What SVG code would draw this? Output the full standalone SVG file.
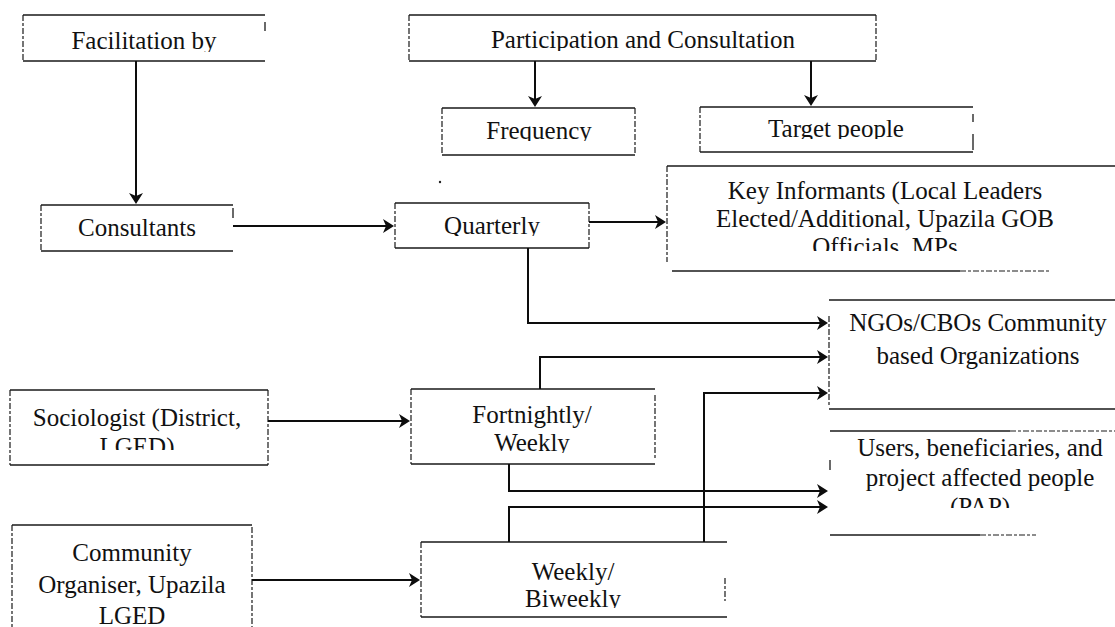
<svg xmlns="http://www.w3.org/2000/svg" width="1115" height="627" viewBox="0 0 1115 627">
  <style>
    .edge { fill: none; stroke: #1a1a1a; stroke-width: 1.3; }
    .side { fill: none; stroke: #1a1a1a; stroke-width: 1.2; stroke-dasharray: 6 2 3 2; }
    .link { fill: none; stroke: #0d0d0d; stroke-width: 2; }
    text { font-family: "Liberation Serif", "Times New Roman", serif; font-size: 25px; fill: #111; text-anchor: middle; }
  </style>
  <defs>
    <marker id="head" viewBox="0 0 11 14" refX="7" refY="7" markerWidth="11" markerHeight="14" markerUnits="userSpaceOnUse" orient="auto">
      <path d="M0,0 L11,7 L0,14 L3,7 Z" fill="#0d0d0d"/>
    </marker>
    <!-- text boxes clip their contents at the inner edge -->
    <clipPath id="c-fac"><rect x="23" y="15" width="242" height="37"/></clipPath>
    <clipPath id="c-part"><rect x="409" y="15" width="467" height="36"/></clipPath>
    <clipPath id="c-freq"><rect x="442" y="108" width="193" height="33"/></clipPath>
    <clipPath id="c-target"><rect x="700" y="107" width="273" height="32"/></clipPath>
    <clipPath id="c-quart"><rect x="395" y="203" width="194" height="33"/></clipPath>
    <clipPath id="c-key"><rect x="667" y="166" width="448" height="85"/></clipPath>
    <clipPath id="c-users"><rect x="830" y="431" width="285" height="77"/></clipPath>
    <clipPath id="c-soc"><rect x="10" y="390" width="258" height="60"/></clipPath>
    <clipPath id="c-fort"><rect x="411" y="389" width="244" height="64"/></clipPath>
    <clipPath id="c-week"><rect x="421" y="542" width="304" height="66"/></clipPath>
  </defs>

  <!-- top row -->
  <g id="facilitation">
    <path class="edge" d="M23,15 H265 M23,61 H265"/>
    <path class="side" d="M23,15 V61"/>
    <path class="edge" d="M265,22 V31"/>
    <text x="144" y="49" clip-path="url(#c-fac)">Facilitation by</text>
  </g>

  <g id="participation">
    <path class="edge" d="M409,15 H876 M409,61 H876"/>
    <path class="side" d="M409,15 V61 M876,15 V61"/>
    <text x="643" y="48" clip-path="url(#c-part)">Participation and Consultation</text>
  </g>

  <g id="frequency">
    <path class="edge" d="M442,108 H635 M442,155 H635"/>
    <path class="side" d="M442,108 V155 M635,108 V155"/>
    <text x="539" y="139" clip-path="url(#c-freq)">Frequency</text>
  </g>

  <g id="target-people">
    <path class="edge" d="M700,107 H973 M700,152 H973"/>
    <path class="side" d="M700,107 V152"/>
    <path class="edge" d="M973,114 V122 M973,134 V150"/>
    <text x="836" y="137" clip-path="url(#c-target)">Target people</text>
  </g>

  <!-- second row -->
  <g id="consultants">
    <path class="edge" d="M41,205 H233 M41,251 H233"/>
    <path class="side" d="M41,205 V251"/>
    <path class="edge" d="M233,208 V218"/>
    <text x="137" y="236">Consultants</text>
  </g>

  <g id="quarterly">
    <path class="edge" d="M395,203 H589 M395,248 H589"/>
    <path class="side" d="M395,203 V248 M589,203 V248"/>
    <text x="492" y="234" clip-path="url(#c-quart)">Quarterly</text>
  </g>

  <g id="key-informants">
    <path class="edge" d="M667,166 H1115"/>
    <path class="side" d="M667,166 V262"/>
    <path class="edge" d="M672,271 H960"/>
    <path class="side" d="M960,271 H1050"/>
    <g clip-path="url(#c-key)">
      <text x="885" y="199">Key Informants (Local Leaders</text>
      <text x="885" y="227">Elected/Additional, Upazila GOB</text>
      <text x="885" y="255">Officials, MPs</text>
    </g>
  </g>

  <!-- target groups on the right -->
  <g id="ngos-cbos">
    <path class="edge" d="M829,300 H1115 M829,409 H1115"/>
    <path class="side" d="M829,316 V407"/>
    <text x="978" y="331">NGOs/CBOs Community</text>
    <text x="978" y="364">based Organizations</text>
  </g>

  <g id="users">
    <path class="edge" d="M830,431 H1010"/>
    <path class="side" d="M1010,431 H1115"/>
    <path class="edge" d="M830,460 V470"/>
    <path class="edge" d="M830,535 H980"/>
    <path class="side" d="M980,535 H1036"/>
    <g clip-path="url(#c-users)">
      <text x="980" y="456">Users, beneficiaries, and</text>
      <text x="980" y="486">project affected people</text>
      <text x="980" y="515">(PAP)</text>
    </g>
  </g>

  <!-- lower left -->
  <g id="sociologist">
    <path class="edge" d="M10,390 H268 M10,465 H268"/>
    <path class="side" d="M10,390 V465 M268,390 V465"/>
    <g clip-path="url(#c-soc)">
      <text x="137" y="426">Sociologist (District,</text>
      <text x="137" y="455">LGED)</text>
    </g>
  </g>

  <g id="fortnightly">
    <path class="edge" d="M411,389 H655 M411,464 H655"/>
    <path class="side" d="M411,389 V464 M655,395 V460"/>
    <g clip-path="url(#c-fort)">
      <text x="532" y="423">Fortnightly/</text>
      <text x="532" y="451">Weekly</text>
    </g>
  </g>

  <g id="community-organiser">
    <path class="edge" d="M12,525 H252"/>
    <path class="side" d="M12,525 V627 M252,527 V627"/>
    <text x="132" y="561">Community</text>
    <text x="132" y="593">Organiser, Upazila</text>
    <text x="132" y="624">LGED</text>
  </g>

  <g id="weekly-biweekly">
    <path class="edge" d="M421,542 H727 M421,617 H727"/>
    <path class="side" d="M421,542 V617"/>
    <path class="side" d="M725,578 V601"/>
    <g clip-path="url(#c-week)">
      <text x="573" y="580">Weekly/</text>
      <text x="573" y="607">Biweekly</text>
    </g>
  </g>

  <!-- stray print speck -->
  <circle cx="440" cy="182" r="1.2" fill="#222"/>

  <g id="connectors" class="link">
    <path class="link" marker-end="url(#head)" d="M136,61 V200"/>
    <path class="link" marker-end="url(#head)" d="M535,61 V103"/>
    <path class="link" marker-end="url(#head)" d="M811,61 V102"/>
    <path class="link" marker-end="url(#head)" d="M233,226 H390"/>
    <path class="link" marker-end="url(#head)" d="M589,222 H662"/>
    <path class="link" marker-end="url(#head)" d="M528,248 V323 H824"/>
    <path class="link" marker-end="url(#head)" d="M540,389 V357 H824"/>
    <path class="link" marker-end="url(#head)" d="M704,542 V393 H824"/>
    <path class="link" marker-end="url(#head)" d="M509,464 V491 H824"/>
    <path class="link" marker-end="url(#head)" d="M509,542 V507 H824"/>
    <path class="link" marker-end="url(#head)" d="M268,421 H406"/>
    <path class="link" marker-end="url(#head)" d="M252,580 H416"/>
  </g>
</svg>
